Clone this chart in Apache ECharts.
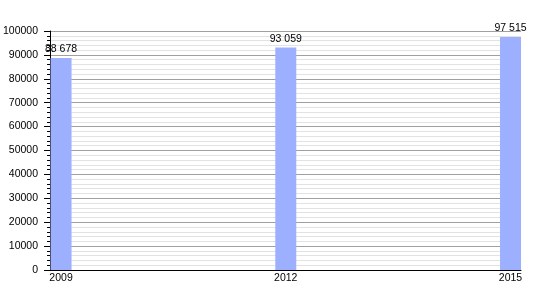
<!DOCTYPE html>
<html>
<head>
<meta charset="utf-8">
<script src="https://cdn.jsdelivr.net/npm/echarts@6/dist/echarts.min.js"></script>
<style>html,body{margin:0;padding:0;background:#fff}#c{width:550px;height:300px}</style>
</head>
<body>
<div id="c"></div>
<script>
const years = [2009, 2012, 2015];
const population = [88678, 93059, 97515];
const yTicks = [0, 10000, 20000, 30000, 40000, 50000, 60000, 70000, 80000, 90000, 100000];

function fmt(v) {
  return String(v).replace(/\B(?=(\d{3})+(?!\d))/g, ' ');
}

const chart = echarts.init(document.getElementById('c'), null, {renderer: 'canvas'});
const font = 'Liberation Sans, Arial, sans-serif';
chart.setOption({
  animation: false,
  backgroundColor: '#fff',
  grid: {left: 50, right: 29, top: 31, bottom: 30, containLabel: false},
  xAxis: {
    type: 'value',
    min: 2008.853,
    max: 2015.14,
    axisLine: {show: true, onZero: false, lineStyle: {color: '#000', width: 1}},
    axisTick: {show: false},
    splitLine: {show: false},
    axisLabel: {
      customValues: years,
      color: '#000', fontSize: 10.5, fontFamily: font, margin: 3,
      formatter: v => String(v)
    }
  },
  yAxis: {
    type: 'value',
    min: yTicks[0],
    max: yTicks[yTicks.length - 1],
    interval: 10000,
    axisLine: {show: true, lineStyle: {color: '#000', width: 1}},
    axisTick: {show: true, length: 6, lineStyle: {color: '#000'}},
    minorTick: {show: true, splitNumber: 5, length: 3, lineStyle: {color: '#000'}},
    splitLine: {show: true, lineStyle: {color: '#a0a0a0', width: 1}},
    minorSplitLine: {show: true, lineStyle: {color: '#e2e2e2', width: 1}},
    axisLabel: {color: '#000', fontSize: 10.5, fontFamily: font, margin: 12,
      formatter: v => String(v)}
  },
  series: [{
    type: 'bar',
    data: years.map((y, i) => [y, population[i]]),
    barWidth: 21,
    itemStyle: {color: '#9db0ff'},
    label: {
      show: true, position: 'top', distance: 3,
      color: '#000', fontSize: 10.5, fontFamily: font,
      formatter: p => fmt(p.value[1])
    }
  }]
});
</script>
</body>
</html>
